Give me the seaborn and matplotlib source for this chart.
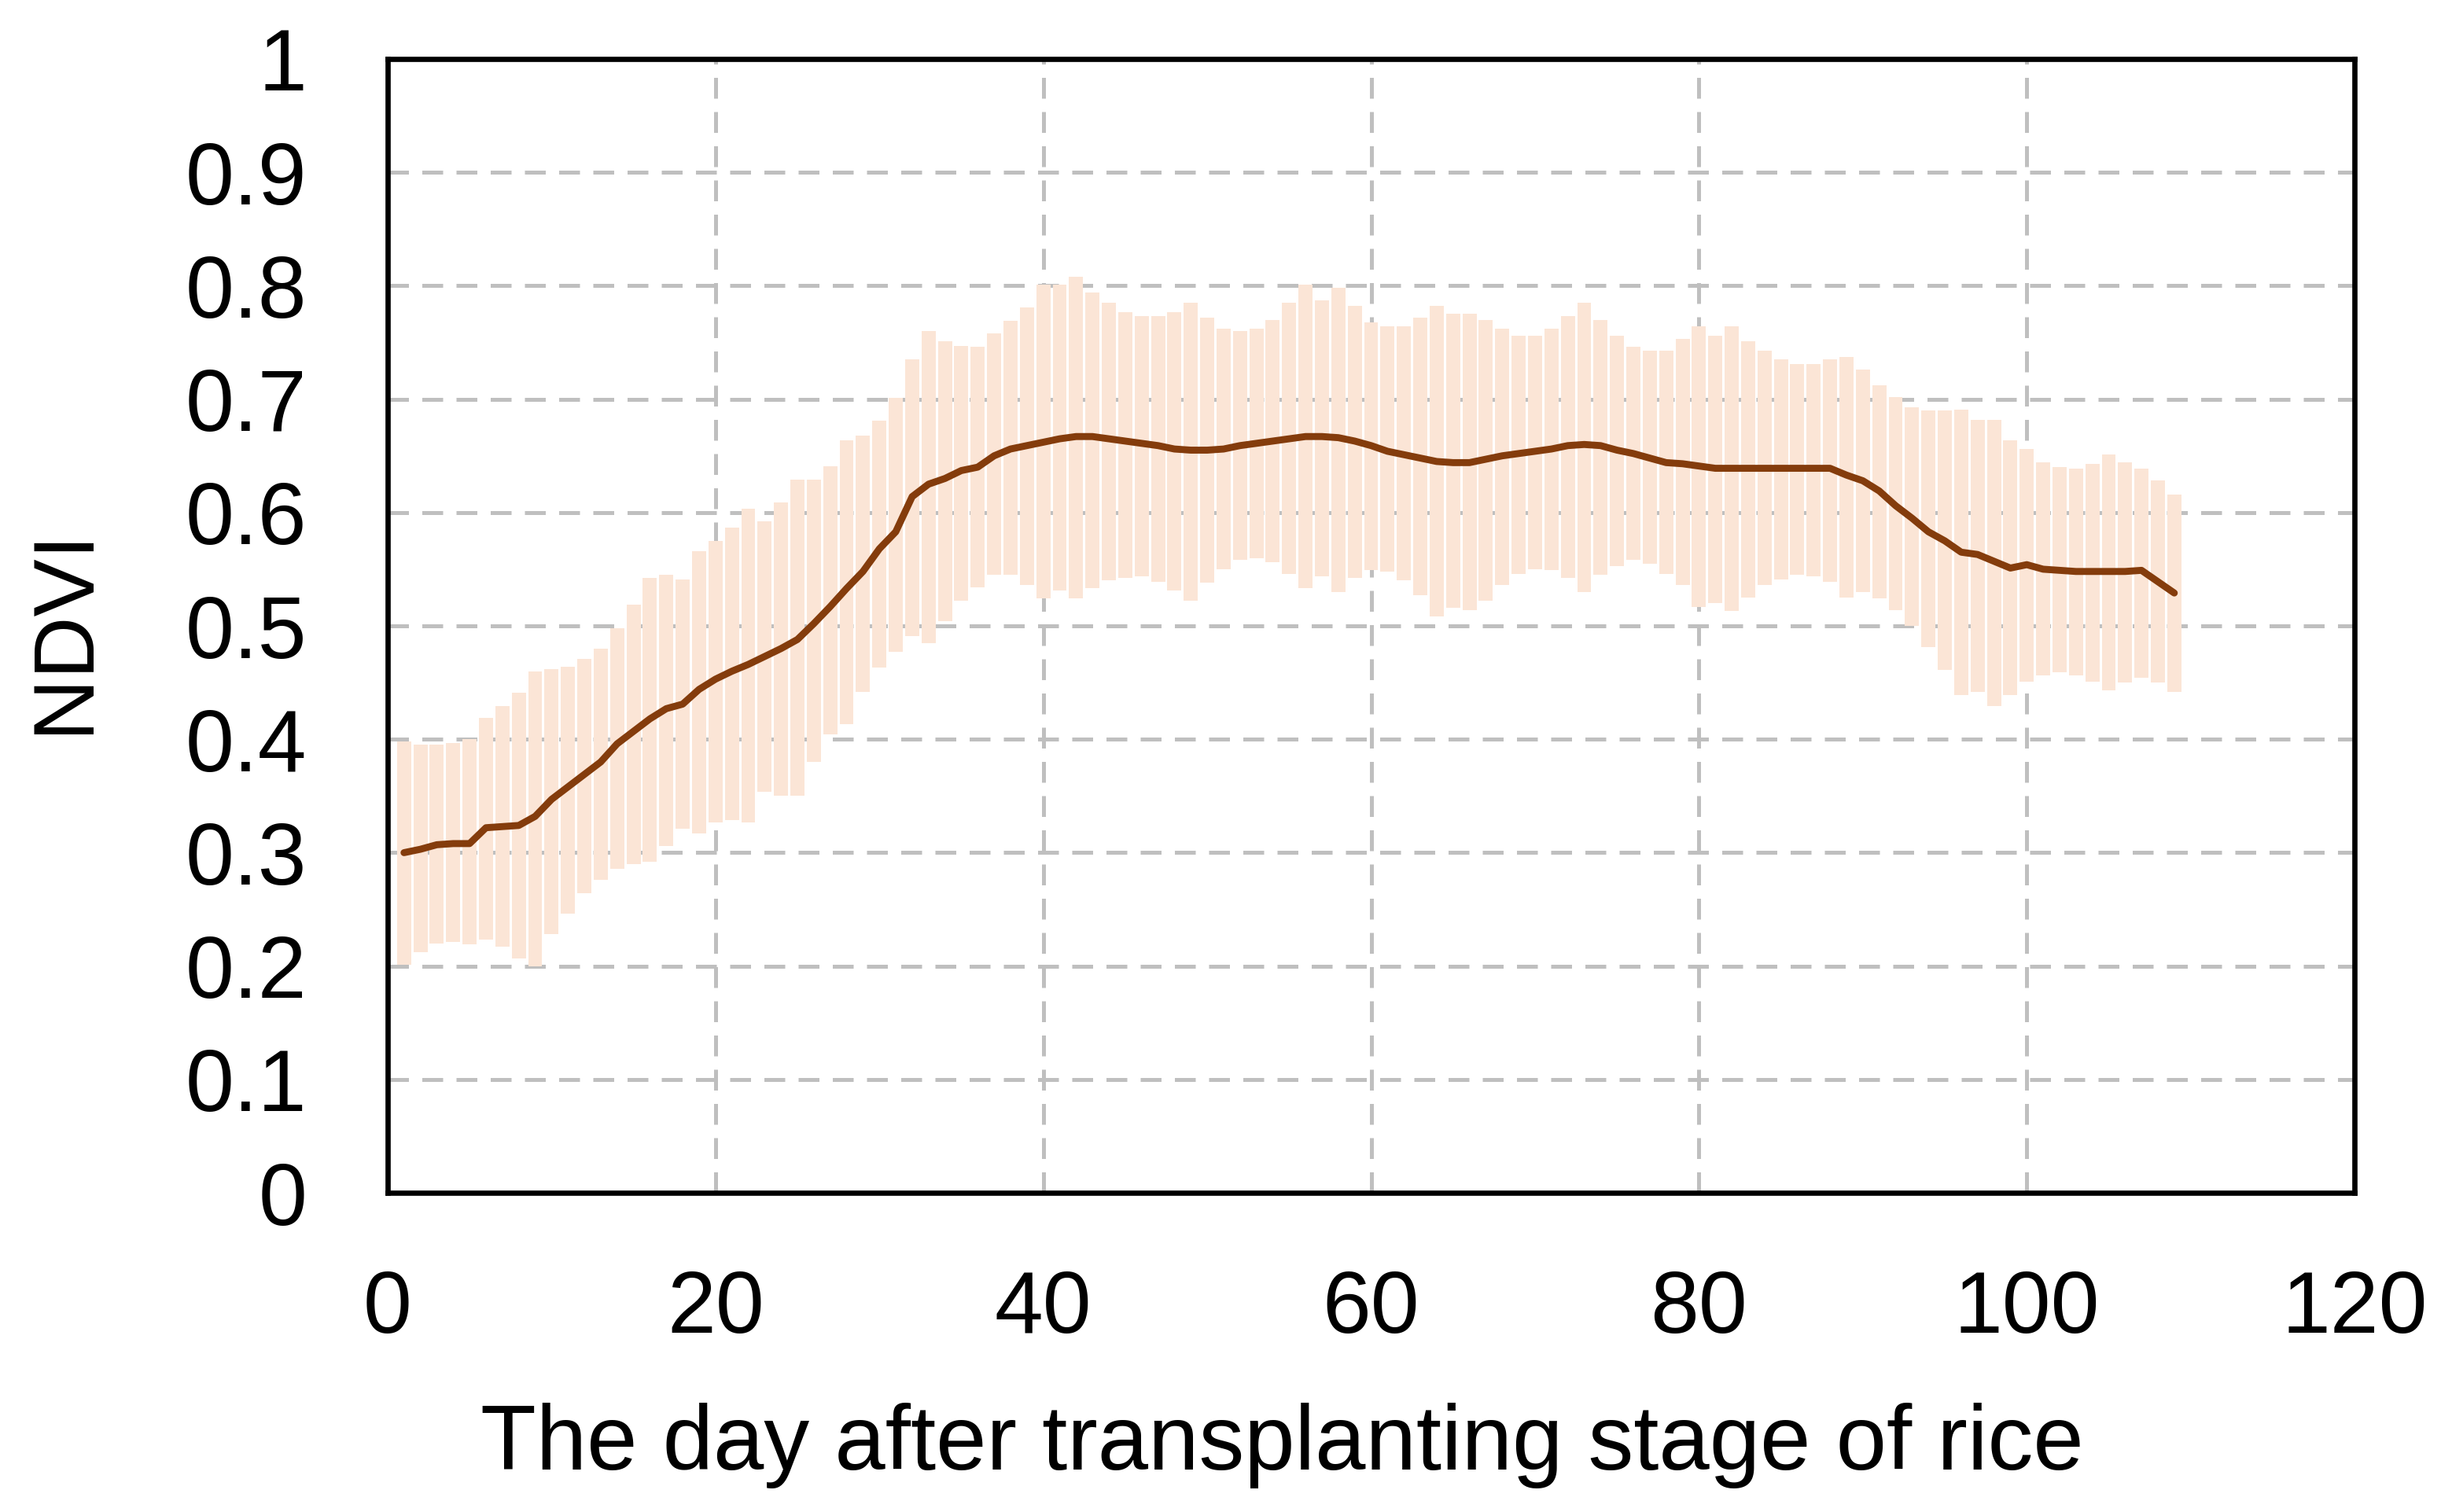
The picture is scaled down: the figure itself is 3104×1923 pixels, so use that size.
import numpy as np
import matplotlib
matplotlib.use("Agg")
import matplotlib.pyplot as plt
import seaborn as sns

days = np.arange(1, 110)

ndvi_mean = [0.300, 0.303, 0.307, 0.308, 0.308, 0.322, 0.323, 0.324, 0.332, 0.347,
             0.358, 0.369, 0.380, 0.396, 0.407, 0.418, 0.427, 0.431, 0.444, 0.453,
             0.460, 0.466, 0.473, 0.480, 0.488, 0.502, 0.517, 0.533, 0.548, 0.568,
             0.583, 0.614, 0.625, 0.630, 0.637, 0.640, 0.650, 0.656, 0.659, 0.662,
             0.665, 0.667, 0.667, 0.665, 0.663, 0.661, 0.659, 0.656, 0.655, 0.655,
             0.656, 0.659, 0.661, 0.663, 0.665, 0.667, 0.667, 0.666, 0.663, 0.659,
             0.654, 0.651, 0.648, 0.645, 0.644, 0.644, 0.647, 0.650, 0.652, 0.654,
             0.656, 0.659, 0.660, 0.659, 0.655, 0.652, 0.648, 0.644, 0.643, 0.641,
             0.639, 0.639, 0.639, 0.639, 0.639, 0.639, 0.639, 0.639, 0.633, 0.628,
             0.619, 0.606, 0.595, 0.583, 0.575, 0.565, 0.563, 0.557, 0.551, 0.554,
             0.550, 0.549, 0.548, 0.548, 0.548, 0.548, 0.549, 0.539, 0.529]

ndvi_upper = [0.398, 0.395, 0.395, 0.397, 0.400, 0.419, 0.429, 0.441, 0.460, 0.462,
              0.464, 0.471, 0.480, 0.498, 0.519, 0.542, 0.545, 0.541, 0.566, 0.575,
              0.587, 0.603, 0.592, 0.609, 0.629, 0.629, 0.641, 0.664, 0.668, 0.681,
              0.701, 0.735, 0.760, 0.751, 0.747, 0.746, 0.758, 0.769, 0.781, 0.801,
              0.801, 0.808, 0.794, 0.785, 0.777, 0.773, 0.773, 0.777, 0.785, 0.772,
              0.762, 0.760, 0.762, 0.770, 0.785, 0.801, 0.787, 0.798, 0.782, 0.768,
              0.764, 0.764, 0.772, 0.782, 0.775, 0.775, 0.770, 0.762, 0.756, 0.756,
              0.762, 0.773, 0.785, 0.770, 0.756, 0.746, 0.743, 0.743, 0.753, 0.764,
              0.756, 0.764, 0.751, 0.743, 0.735, 0.731, 0.731, 0.735, 0.737, 0.726,
              0.712, 0.702, 0.693, 0.690, 0.690, 0.691, 0.682, 0.682, 0.664, 0.656,
              0.644, 0.640, 0.639, 0.643, 0.651, 0.644, 0.639, 0.628, 0.616]

ndvi_lower = [0.201, 0.212, 0.220, 0.221, 0.219, 0.223, 0.217, 0.207, 0.200, 0.228,
              0.246, 0.264, 0.276, 0.286, 0.290, 0.292, 0.306, 0.321, 0.317, 0.327,
              0.329, 0.327, 0.354, 0.350, 0.350, 0.380, 0.404, 0.413, 0.442, 0.463,
              0.477, 0.491, 0.485, 0.504, 0.522, 0.534, 0.545, 0.545, 0.536, 0.524,
              0.531, 0.524, 0.533, 0.540, 0.542, 0.544, 0.539, 0.531, 0.522, 0.538,
              0.550, 0.558, 0.560, 0.556, 0.546, 0.533, 0.544, 0.530, 0.542, 0.549,
              0.548, 0.540, 0.527, 0.508, 0.516, 0.514, 0.522, 0.536, 0.546, 0.550,
              0.549, 0.542, 0.530, 0.545, 0.553, 0.558, 0.555, 0.546, 0.536, 0.517,
              0.520, 0.513, 0.525, 0.536, 0.541, 0.545, 0.544, 0.539, 0.525, 0.530,
              0.524, 0.514, 0.500, 0.481, 0.461, 0.439, 0.442, 0.429, 0.439, 0.451,
              0.456, 0.459, 0.456, 0.451, 0.443, 0.450, 0.454, 0.450, 0.442]

x_ticks = [0, 20, 40, 60, 80, 100, 120]
y_ticks = [0, 0.1, 0.2, 0.3, 0.4, 0.5, 0.6, 0.7, 0.8, 0.9, 1.0]
y_tick_labels = ["0", "0.1", "0.2", "0.3", "0.4", "0.5", "0.6", "0.7", "0.8", "0.9", "1"]
x_label = "The day after transplanting stage of rice"
y_label = "NDVI"

sns.set_style("white")
plt.rcParams["font.family"] = ["Liberation Sans", "DejaVu Sans"]

fig = plt.figure(figsize=(15.52, 9.615), dpi=200)
ax = fig.add_axes([0.1588, 0.2111, 0.8058, 0.7499])

upper = np.array(ndvi_upper)
lower = np.array(ndvi_lower)
ax.bar(days, upper - lower, bottom=lower, width=0.86, color="#FBE5D6",
       linewidth=0, zorder=2)
line_ax = sns.lineplot(x=days, y=ndvi_mean, color="#843C0C", linewidth=3.2, ax=ax, zorder=3)
for ln in ax.get_lines():
    ln.set_solid_joinstyle("round")
    ln.set_solid_capstyle("round")

ax.set_xlim(0, 120)
ax.set_ylim(0, 1)
ax.set_xticks(x_ticks)
ax.set_xticklabels([str(t) for t in x_ticks])
ax.set_yticks(y_ticks)
ax.set_yticklabels(y_tick_labels)

ax.set_axisbelow(True)
ax.grid(True, color="#BFBFBF", linestyle=(0, (5.3, 3.4)), linewidth=1.8)

for s in ax.spines.values():
    s.set_visible(True)
    s.set_color("black")
    s.set_linewidth(2.4)
    s.set_zorder(5)

ax.tick_params(axis="both", length=0, labelsize=40, colors="black")
ax.tick_params(axis="y", pad=37)
ax.tick_params(axis="x", pad=35)

ax.set_xlabel(x_label, fontsize=41.7, color="black")
ax.xaxis.label.set_va("center")
ax.xaxis.set_label_coords(0.4546, -0.2226)
ax.set_ylabel(y_label, fontsize=39.5, color="black")
ax.yaxis.label.set_va("center")
ax.yaxis.set_label_coords(-0.164, 0.496)

fig.savefig("out.png", dpi=200, facecolor="white")
